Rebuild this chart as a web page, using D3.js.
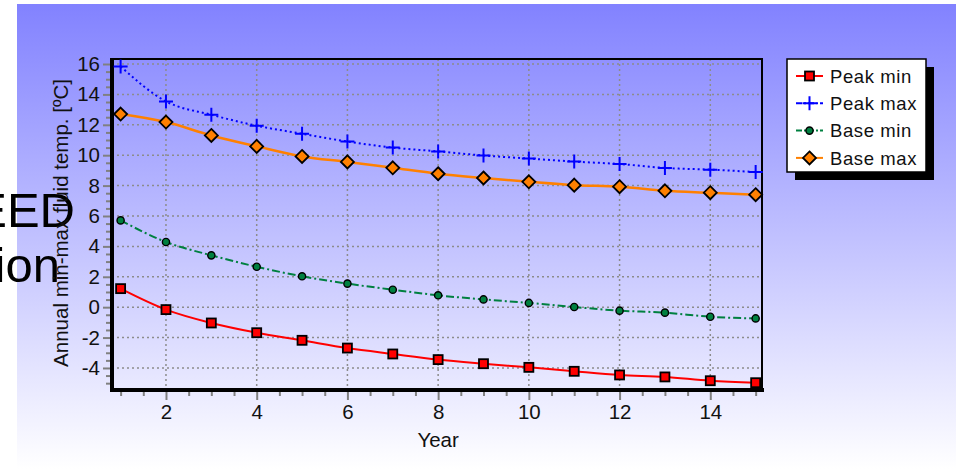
<!DOCTYPE html>
<html><head><meta charset="utf-8">
<script src="https://cdn.jsdelivr.net/npm/d3@7"></script>
<style>html,body{margin:0;padding:0;background:#fff;overflow:hidden}svg{display:block;font-family:"Liberation Sans",Arial,sans-serif}</style>
</head><body>
<svg id="c" width="956" height="469"></svg>
<script>
const years = [1,2,3,4,5,6,7,8,9,10,11,12,13,14,15];
const peakMin = [1.22,-0.16,-1.04,-1.68,-2.18,-2.69,-3.08,-3.45,-3.72,-3.96,-4.22,-4.46,-4.59,-4.84,-4.97];
const peakMax = [15.84,13.54,12.66,11.94,11.41,10.9,10.5,10.25,9.98,9.78,9.58,9.42,9.16,9.05,8.89];
const baseMin = [5.71,4.29,3.41,2.66,2.03,1.55,1.15,0.78,0.51,0.28,0.01,-0.23,-0.36,-0.63,-0.74];
const baseMax = [12.71,12.18,11.3,10.58,9.92,9.56,9.17,8.78,8.5,8.25,8.03,7.93,7.66,7.53,7.4];
const xTicks = [2,4,6,8,10,12,14];
const yTicks = [-4,-2,0,2,4,6,8,10,12,14,16];
const seriesNames = ["Peak min","Peak max","Base min","Base max"];

const svg = d3.select("#c");
const defs = svg.append("defs");
const grad = defs.append("linearGradient").attr("id","bg").attr("x1",0).attr("y1",0).attr("x2",0).attr("y2",1);
grad.append("stop").attr("offset","0%").attr("stop-color","#8282ff");
grad.append("stop").attr("offset","100%").attr("stop-color","#ffffff");
svg.append("rect").attr("x",17).attr("y",4).attr("width",939).attr("height",465).attr("fill","url(#bg)");

const L=112,R=762,T=59,B=390;
const x = d3.scaleLinear().domain([0.81,15.14]).range([L,R]);
const y = d3.scaleLinear().domain([-5.45,16.33]).range([B,T]);

// grid
const g = svg.append("g");
g.selectAll(".gx").data(xTicks).join("line")
 .attr("x1",d=>x(d)).attr("x2",d=>x(d)).attr("y1",T).attr("y2",B)
 .attr("stroke","#8c8c8c").attr("stroke-width",1.5).attr("stroke-dasharray","2,3");
g.selectAll(".gy").data(yTicks).join("line")
 .attr("y1",d=>y(d)).attr("y2",d=>y(d)).attr("x1",L).attr("x2",R)
 .attr("stroke","#8c8c8c").attr("stroke-width",1.5).attr("stroke-dasharray","2,3");

// axes ticks
const yAxis = d3.axisLeft(y).tickValues(d3.range(-5,16.01,0.5)).tickSize(5).tickFormat("");
const ya = svg.append("g").attr("transform",`translate(${L},0)`).call(yAxis);
ya.select(".domain").remove();
ya.selectAll("line").attr("stroke","#808080").attr("stroke-width",2)
 .attr("x2",d=>Number.isInteger(d/2)?-9:-6);
const yLab = d3.axisLeft(y).tickValues(yTicks).tickSize(0).tickPadding(12).tickFormat(d=>String(d));
const yl = svg.append("g").attr("transform",`translate(${L},0)`).call(yLab);
yl.select(".domain").remove();
yl.selectAll("text").attr("font-size",20.5).attr("fill","#111").attr("font-family","Liberation Sans, Arial");

const xAxis = d3.axisBottom(x).tickValues(d3.range(1,15.01,0.5)).tickSize(5).tickFormat("");
const xa = svg.append("g").attr("transform",`translate(0,${B})`).call(xAxis);
xa.select(".domain").remove();
xa.selectAll("line").attr("stroke","#808080").attr("stroke-width",2)
 .attr("y2",d=>Number.isInteger(d/2)?10:6);
const xLab = d3.axisBottom(x).tickValues(xTicks).tickSize(0).tickPadding(14).tickFormat(d=>String(d));
const xl = svg.append("g").attr("transform",`translate(0,${B})`).call(xLab);
xl.select(".domain").remove();
xl.selectAll("text").attr("font-size",20.5).attr("fill","#111").attr("font-family","Liberation Sans, Arial");

// frame
svg.append("rect").attr("x",L).attr("y",T).attr("width",R-L).attr("height",B-T)
 .attr("fill","none").attr("stroke","#000").attr("stroke-width",2);
svg.append("line").attr("x1",L).attr("x2",L).attr("y1",T-1).attr("y2",B+2).attr("stroke","#000").attr("stroke-width",4);
svg.append("line").attr("x1",L-2).attr("x2",R+2).attr("y1",B).attr("y2",B).attr("stroke","#000").attr("stroke-width",4);

// series
const series = [
 {name:seriesNames[0], vals:peakMin, color:"#ff0000", dash:null, w:2, sym:"square"},
 {name:seriesNames[1], vals:peakMax, color:"#0000ff", dash:"2,3", w:2, sym:"plus"},
 {name:seriesNames[2], vals:baseMin, color:"#008040", dash:"8,3,2,3", w:2, sym:"circle"},
 {name:seriesNames[3], vals:baseMax, color:"#ff8000", dash:null, w:2.5, sym:"diamond"}
];
const line = d3.line().x(d=>x(d[0])).y(d=>y(d[1])).curve(d3.curveMonotoneX);
function drawSym(sel, s, cx, cy){
  if(s.sym==="square") sel.append("rect").attr("x",cx-4.5).attr("y",cy-4.5).attr("width",9).attr("height",9).attr("fill","#ff0000").attr("stroke","#000").attr("stroke-width",1.8);
  else if(s.sym==="plus") sel.append("path").attr("d",`M${cx-7},${cy}H${cx+7}M${cx},${cy-7}V${cy+7}`).attr("stroke","#0000ff").attr("stroke-width",2).attr("fill","none");
  else if(s.sym==="circle") sel.append("circle").attr("cx",cx).attr("cy",cy).attr("r",3.6).attr("fill","#008040").attr("stroke","#000").attr("stroke-width",1.4);
  else sel.append("path").attr("d",`M${cx},${cy-6.5}L${cx+6.5},${cy}L${cx},${cy+6.5}L${cx-6.5},${cy}Z`).attr("fill","#ff8000").attr("stroke","#000").attr("stroke-width",1.8);
}
series.forEach(s=>{
  const pts = years.map((yr,i)=>[yr,s.vals[i]]);
  svg.append("path").attr("d",line(pts)).attr("fill","none").attr("stroke",s.color)
   .attr("stroke-width",s.w).attr("stroke-dasharray",s.dash);
  const gm = svg.append("g");
  pts.forEach(p=>drawSym(gm,s,x(p[0]),y(p[1])));
});

// axis titles
svg.append("text").attr("x",x(8)).attr("y",447).attr("text-anchor","middle").attr("font-size",20.5).attr("fill","#111").text("Year");

// big left text (partially hidden, as in the reference)
svg.append("text").attr("x",75).attr("y",227).attr("text-anchor","end").attr("font-size",49).attr("fill","#000").text("EED");
svg.append("text").attr("x",60).attr("y",282).attr("text-anchor","end").attr("font-size",49).attr("fill","#000").text("ion");

svg.append("text").attr("transform","translate(68,223) rotate(-90)").attr("text-anchor","middle").attr("font-size",20.5).attr("fill","#111").text("Annual min-max fluid temp. [ºC]");

// legend
const lx=787, ly=59, lw=139, lh=113;
svg.append("rect").attr("x",lx+8).attr("y",ly+8).attr("width",lw).attr("height",lh).attr("fill","#000");
svg.append("rect").attr("x",lx).attr("y",ly).attr("width",lw).attr("height",lh).attr("fill","#fff").attr("stroke","#000").attr("stroke-width",1.5);
series.forEach((s,i)=>{
  const cy = ly+17+i*27.3;
  const gl = svg.append("g");
  gl.append("line").attr("x1",lx+9).attr("x2",lx+36).attr("y1",cy).attr("y2",cy).attr("stroke",s.color).attr("stroke-width",2).attr("stroke-dasharray",s.dash?"6,2,2,2":null);
  drawSym(gl,s,lx+22.5,cy);
  gl.append("text").attr("x",lx+43).attr("y",cy).attr("dy","0.36em").attr("font-size",18.5).attr("letter-spacing","0.6px").attr("fill","#111").text(s.name);
});
</script>
</body></html>
